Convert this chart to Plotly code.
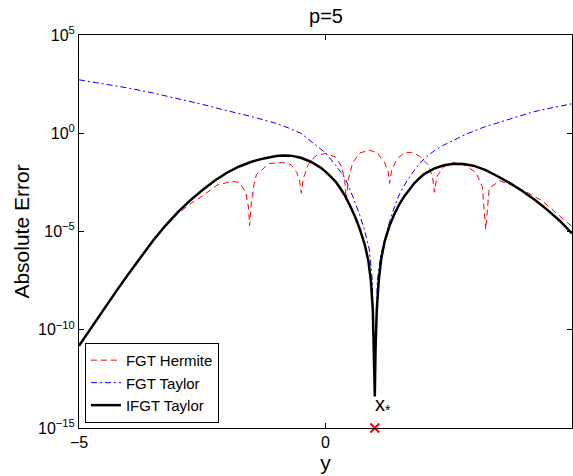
import plotly.graph_objects as go

# ---- data (log10 of absolute error) ----
ifgt_x = [-5.0, -4.75, -4.5, -4.25, -4.0, -3.75, -3.5, -3.25, -3.0, -2.75, -2.5, -2.25,
          -2.0, -1.75, -1.5, -1.25, -1.0, -0.85, -0.7, -0.5, -0.3, -0.1, 0.0, 0.1, 0.2,
          0.3, 0.4, 0.5, 0.6, 0.7, 0.8, 0.87, 0.92, 0.96, 0.985, 1.0, 1.015, 1.04, 1.08,
          1.13, 1.2, 1.3, 1.4, 1.5, 1.6, 1.7, 1.8, 1.9, 2.0, 2.2, 2.4, 2.6, 2.8, 3.0,
          3.25, 3.5, 3.75, 4.0, 4.25, 4.5, 4.75, 5.0]
ifgt_log10 = [-10.81, -9.88, -8.97, -8.06, -7.17, -6.3, -5.47, -4.71, -4.03, -3.43, -2.9, -2.42,
              -2.01, -1.69, -1.45, -1.28, -1.16, -1.13, -1.14, -1.25, -1.45, -1.75, -1.95, -2.2, -2.45,
              -2.8, -3.2, -3.7, -4.25, -4.9, -5.7, -6.5, -7.5, -9.0, -11.0, -13.4, -11.0, -9.0, -7.5,
              -6.4, -5.5, -4.7, -4.1, -3.6, -3.2, -2.85, -2.55, -2.3, -2.08, -1.8, -1.63, -1.55, -1.56, -1.65,
              -1.88, -2.2, -2.55, -2.95, -3.4, -3.9, -4.45, -5.1]

fgt_taylor_x = [-5.0, -4.5, -4.0, -3.5, -3.0, -2.5, -2.0, -1.5, -1.0, -0.75, -0.5, -0.25,
                0.0, 0.2, 0.4, 0.55, 0.7, 0.8, 0.89, 0.95, 1.0, 1.05, 1.12, 1.2, 1.3, 1.4,
                1.5, 1.67, 1.84, 2.0, 2.2, 2.4, 2.6, 2.85, 3.2, 3.53, 3.9, 4.2, 4.6, 5.0]
fgt_taylor_log10 = [2.72, 2.52, 2.3, 2.05, 1.77, 1.47, 1.15, 0.85, 0.5, 0.27, 0.0, -0.48,
                    -1.0, -1.6, -2.3, -3.2, -4.2, -5.0, -5.94, -7.5, -13.0, -7.5, -6.2, -5.43, -4.5, -3.74,
                    -3.1, -2.35, -1.75, -1.3, -0.9, -0.6, -0.35, -0.05, 0.3, 0.57, 0.85, 1.08, 1.3, 1.5]

fgt_hermite_x = [-5.0, -4.75, -4.5, -4.25, -4.0, -3.75, -3.5, -3.25, -3.0, -2.75, -2.5, -2.2,
                 -1.9, -1.75, -1.62, -1.56,
                 -1.54, -1.5, -1.45, -1.4, -1.14, -0.87, -0.7, -0.58, -0.52, -0.49, -0.45,
                 -0.35, -0.2, 0.0, 0.2, 0.33, 0.39, 0.42, 0.46, 0.55, 0.7, 0.89, 1.05, 1.2,
                 1.27, 1.30, 1.34, 1.45, 1.6, 1.74, 1.9, 2.08, 2.17, 2.21, 2.26, 2.4, 2.6,
                 2.85, 3.05, 3.18, 3.25, 3.32, 3.53, 3.8, 4.07, 4.4, 4.68, 5.0]
fgt_hermite_log10 = [-10.81, -9.88, -8.97, -8.06, -7.17, -6.3, -5.47, -4.73, -4.1, -3.6, -3.2, -2.64,
                     -2.45, -2.5, -3.0, -3.8,
                     -4.7, -3.4, -2.6, -2.1, -1.54, -1.49, -1.6, -2.0, -2.5, -3.05, -2.3,
                     -1.6, -1.15, -1.03, -1.2, -1.7, -2.4, -3.4, -2.4, -1.5, -1.0, -0.86, -1.0, -1.5,
                     -1.95, -2.55, -1.9, -1.3, -1.0, -0.98, -1.15, -1.6, -2.2, -3.0, -2.2, -1.7, -1.5,
                     -1.65, -2.0, -2.7, -4.9, -2.8, -2.42, -2.65, -2.98, -3.45, -4.08, -4.75]

x_star = [1.0]
x_star_val = [1e-15]

y_tickvals_exp = [-15, -10, -5, 0, 5]
x_tickvals = [-5, 0, 5]
x_ticktext = ["\u22125", "0", "5"]

font = "Liberation Sans, Arial, Helvetica, sans-serif"

def pw(v):
    return [10 ** e for e in v]

fig = go.Figure()
fig.add_trace(go.Scatter(x=fgt_hermite_x, y=pw(fgt_hermite_log10), mode="lines",
                         name="FGT Hermite",
                         line=dict(color="#ff0000", width=1, dash="6px,4px")))
fig.add_trace(go.Scatter(x=fgt_taylor_x, y=pw(fgt_taylor_log10), mode="lines",
                         name="FGT Taylor",
                         line=dict(color="#0000ff", width=1, dash="6px,3px,2px,3px")))
fig.add_trace(go.Scatter(x=ifgt_x, y=pw(ifgt_log10), mode="lines",
                         name="IFGT Taylor",
                         line=dict(color="#000000", width=2.5)))
fig.add_trace(go.Scatter(x=x_star, y=x_star_val, mode="markers", showlegend=False,
                         cliponaxis=False,
                         marker=dict(symbol="x-thin", size=9,
                                     line=dict(color="#ff0000", width=2))))

fig.add_annotation(x=1.0, y=-13.85, xref="x", yref="y", text="x<sub>*</sub>",
                   showarrow=False, xanchor="left", yanchor="middle", xshift=-2,
                   font=dict(family=font, size=20, color="black"))

fig.update_layout(
    width=573, height=476,
    margin=dict(l=79, r=1, t=35, b=48, autoexpand=False),
    paper_bgcolor="white", plot_bgcolor="white",
    font=dict(family=font, size=16, color="black"),
    title=dict(text="p=5", x=(326 / 573), xanchor="center", y=1 - 16 / 476, yanchor="middle",
               font=dict(family=font, size=20, color="black")),
    showlegend=True,
    legend=dict(x=0.012, y=0.013, xanchor="left", yanchor="bottom",
                bgcolor="white", bordercolor="black", borderwidth=1,
                font=dict(family=font, size=15, color="black"),
                tracegroupgap=0),
)
fig.update_xaxes(range=[-5, 5], tickvals=x_tickvals, ticktext=x_ticktext,
                 ticks="inside", ticklen=5, tickcolor="black", automargin=False,
                 showline=True, linecolor="black", linewidth=1, mirror="ticks",
                 showgrid=False, zeroline=False,
                 title=dict(text="y", font=dict(family=font, size=21), standoff=2),
                 tickfont=dict(family=font, size=16))
fig.update_yaxes(type="log", range=[-15, 5],
                 tickvals=[10 ** e for e in y_tickvals_exp],
                 ticktext=["10<sup>%s</sup>" % (str(e).replace("-", "\u2212")) for e in y_tickvals_exp],
                 ticks="inside", ticklen=5, tickcolor="black", automargin=False,
                 showline=True, linecolor="black", linewidth=1, mirror="ticks",
                 showgrid=False, zeroline=False,
                 title=dict(text="Absolute Error", font=dict(family=font, size=21), standoff=2),
                 tickfont=dict(family=font, size=16))

fig.write_html("out.html", config={"displayModeBar": False},
               post_script="document.body.style.margin='0';document.body.style.overflow='hidden';")
